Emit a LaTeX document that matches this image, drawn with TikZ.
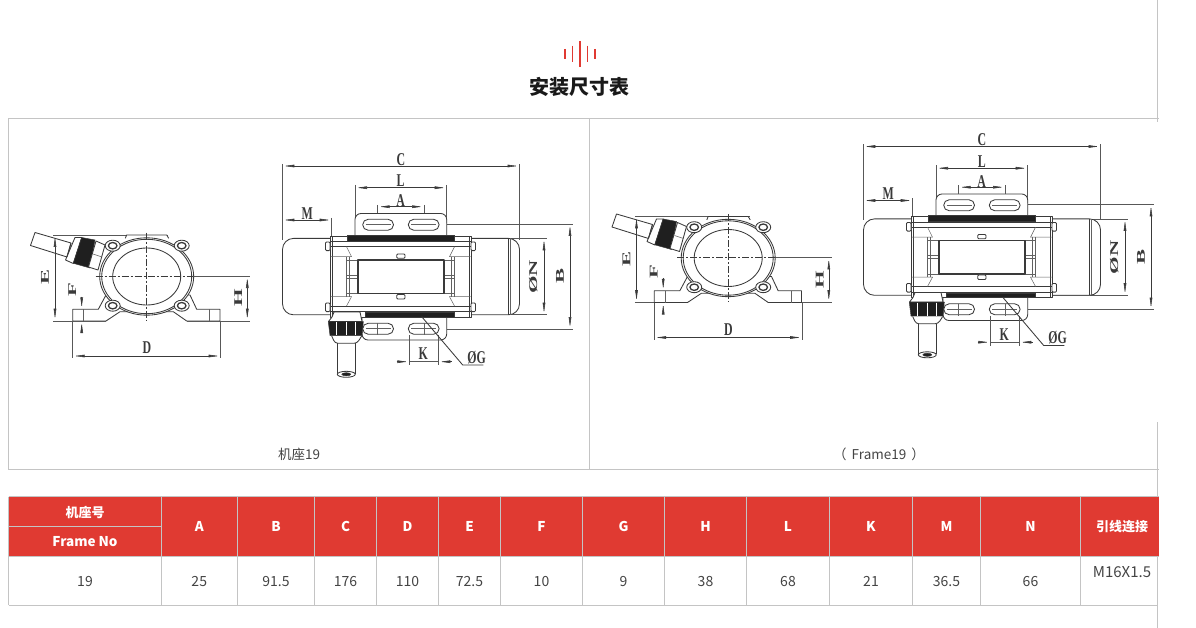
\documentclass[tikz,border=0pt]{standalone}
\usepackage{fontspec}
\setmainfont{Noto Sans CJK SC}
\newfontfamily\dimfont{Liberation Serif}
\usepackage{xcolor}
\usetikzlibrary{arrows.meta}
\definecolor{ink}{HTML}{3A3A3A}
\definecolor{rule}{HTML}{C4C4C4}
\definecolor{headred}{HTML}{E03A32}
\definecolor{txt}{HTML}{444444}
\tikzset{
  part/.style={draw=ink, line width=0.85pt, line join=round},
  thin part/.style={draw=ink!80, line width=0.5pt},
  solid part/.style={draw=ink, fill=black!88, line width=0.5pt},
  ctr/.style={draw=ink, line width=0.6pt, dash pattern=on 7pt off 2pt on 2pt off 2pt},
  ext/.style={draw=ink!85, line width=0.55pt},
  dim/.style={draw=ink, line width=0.55pt, {Latex[length=12pt,width=2.8pt]}-{Latex[length=12pt,width=2.8pt]}},
  dimto/.style={draw=ink, line width=0.55pt, -{Latex[length=12pt,width=2.8pt]}},
  dimlab/.style={text=ink, inner sep=0pt, transform shape, xscale=.66, font=\dimfont\bfseries\fontsize{18}{18}\selectfont},
  dimlabr/.style={dimlab, rotate=90, xscale=1.25},
  box/.style={draw=rule, line width=0.8pt},
  headcell/.style={text=white, inner sep=0pt, font=\bfseries\fontsize{13.5}{16}\selectfont},
  valcell/.style={text=txt, inner sep=0pt, text height=10pt, text depth=0pt, font=\fontsize{14}{16}\selectfont},
  capt/.style={text=txt, inner sep=0pt, font=\fontsize{13.5}{15}\selectfont},
  frontview/.pic={
    \draw[ext] (53.3,235) -- (168,235) (53.3,321) -- (106,321) (186.7,321) -- (250,321) (193,276) -- (250,276);
    \draw[part,fill=white] (72.7,321) -- (72.7,309.3) -- (98.3,309.3) -- (106,295) -- (120,295) -- (175,295) -- (190,295)
      -- (196.7,309.3) -- (220,309.3) -- (220,321) -- (186.7,321) -- (173.3,311.7) -- (120,311.7) -- (106,321) -- cycle;
    \draw[thin part] (83.3,309.3) -- (83.3,321) (209.3,309.3) -- (209.3,321);
    \draw[part,fill=white] (125.3,238.3) -- (126.7,235) -- (166.7,235) -- (168.7,238.3);
    \draw[part,fill=white] (146.7,276.5) ellipse (47 and 38.7);
    \draw[part,fill=white] (146.7,276.5) ellipse (45 and 37.2);
    \draw[part] (146.7,276.5) ellipse (34 and 28.5);
    \foreach \bx/\by in {112.7/245.7,181.7/245.7,112.7/305.7,181.7/305.7}{
      \draw[part,fill=white] (\bx,\by) ellipse (7.5 and 5.5);
      \draw[part,line width=1.3pt,fill=white] (\bx,\by) ellipse (4.3 and 3.2);
    }
    \draw[part,fill=white] (35,232.5) -- (30.5,245.5) -- (67,257) -- (71,243) -- cycle;
    \draw[part,fill=white] (75,237.5) -- (65.5,260) -- (73.3,263.5) -- (81.7,237.5) -- cycle;
    \draw[part] (71,243) -- (67,257);
    \draw[solid part] (81.7,237.5) -- (95,240) -- (90,268) -- (73.3,263.3) -- cycle;
    \draw[part,fill=white] (96,241) -- (105,245) -- (98,270) -- (88.5,267) -- cycle;
    \draw[thin part] (93,254) -- (102,257);
    \draw[ctr] (95.7,276) -- (193,276);
    \draw[ctr] (146.7,232.7) -- (146.7,320.7);
    \draw[dim] (55,235) -- (55,320.7);
    \node[dimlabr] (labE) at (45,277) {E};
    \draw[dimto] (81.7,296.5) -- (81.7,309.3);
    \draw[dimto] (81.7,331) -- (81.7,321);
    \node[dimlabr] (labF) at (72.3,290) {F};
    \draw[dim] (247.3,276) -- (247.3,320.7);
    \node[dimlabr] (labH) at (238.3,298) {H};
    \draw[ext] (72.7,321) -- (72.7,358) (220.7,321) -- (220.7,358);
    \draw[dim] (72.7,356) -- (220.7,356);
    \node[dimlab] (labD) at (147,348) {D};
  },
  sideview/.pic={
    \draw[ext] (282.3,164) -- (282.3,240) (519.5,164) -- (519.5,240) (331.7,218) -- (331.7,236);
    \draw[ext] (355,185) -- (355,223) (446.7,185) -- (446.7,223) (377.7,205) -- (377.7,230) (424,205) -- (424,230);
    \draw[ext] (446.7,224) -- (572.7,224) (446.7,329) -- (572.7,329) (471,238.3) -- (546.5,238.3) (471,314.7) -- (546.5,314.7);
    \draw[part,fill=white,rounded corners=6] (355,236) -- (355,213.5) -- (446.7,213.5) -- (446.7,236);
    \draw[part,fill=white,rounded corners=6] (446.7,317) -- (446.7,340) -- (362,340) -- (362,317);
    \foreach \sx in {362.7,408.3}{
      \foreach \sy in {219.3,323.3}{
        \draw[part,rounded corners=5.4] (\sx,\sy) rectangle ++(30.8,10.9);
        \draw[thin part] (\sx,\sy+5.4) ++(3,0) -- ++(24.8,0);
      }
    }
    \draw[thin part] (377.7,323) -- (377.7,335) (424,323) -- (424,335);
    \draw[part,fill=white,rounded corners=11] (282.5,238.4) rectangle (519.5,314.8);
    \draw[part] (508.3,238.4) -- (508.3,314.8);
    \draw[thin part] (510,238.4) -- (510,314.8);
    \draw[part,fill=white] (330,236) rectangle (471,317);
    \draw[part] (332,236) -- (332,317) (469,236) -- (469,317);
    \foreach \ly in {241.7,246.7,306,311.5}{
      \draw[part] (330,\ly) -- (471,\ly);
    }
    \foreach \mir in {1,-1}{
      \begin{scope}[shift={(400.5,0)},xscale=\mir]
        \draw[thin part] (-70,256.7) -- (-49,256.7) -- (-54,246.7) (-70,296.7) -- (-49,296.7) -- (-54,306);
        \draw[thin part] (-54,256.7) -- (-54,296.7) (-51,256.7) -- (-51,296.7);
        \draw[thin part] (-54,260) -- (-43,260) (-54,275) -- (-43,275) (-54,278) -- (-43,278) (-54,293.3) -- (-43,293.3);
        \foreach \by in {242,303}{
          \draw[part,fill=white,rounded corners=1] (-75,\by) rectangle (-70.5,\by+8.6);
        }
      \end{scope}
    }
    \draw[solid part] (347.3,235) rectangle (454,241);
    \draw[solid part] (365,312.3) rectangle (454,317);
    \draw[part,line width=1.6pt,fill=white] (358,260) rectangle (444,293.3);
    \draw[part,fill=white,rounded corners=1] (396.7,254) rectangle (405,258.3);
    \draw[part,fill=white,rounded corners=1] (396.7,294.5) rectangle (405,299);
    \draw[part,fill=white] (332,317) -- (334,312) -- (360,312) -- (362,321.5) -- (328.5,321.5) -- cycle;
    \draw[solid part] (328.3,321.7) -- (363.3,321.7) -- (362,335.5) -- (330,335.5) -- cycle;
    \draw[white,line width=0.6pt] (336,322) -- (336,335) (346,322) -- (346,335) (355.5,322) -- (355.5,335);
    \draw[part,fill=white,rounded corners=3] (331.7,336) -- (335,343.3) -- (357,343.3) -- (361.7,336);
    \draw[part,fill=white] (337.3,343.3) -- (337.3,373.5) (355.3,343.3) -- (355.3,373.5);
    \draw[part,fill=white] (346.3,374.3) ellipse (9 and 3);
    \draw[solid part] (346.3,374.3) ellipse (4.5 and 1.6);
    \draw[dim] (282.3,166) -- (519.5,166);
    \node[dimlab] (labC) at (401,159.3) {C};
    \draw[dim] (355,187.7) -- (446.7,187.7);
    \node[dimlab] (labL) at (400.7,180.7) {L};
    \draw[dim] (377.7,206.7) -- (424,206.7);
    \node[dimlab] (labA) at (400.7,200.7) {A};
    \draw[dim] (282.3,220) -- (331.7,220);
    \node[dimlab] (labM) at (307.3,213.3) {M};
    \draw[dim] (544,238.3) -- (544,314.7);
    \node[dimlabr] (labN) at (533.3,276.7) {ØN};
    \draw[dim] (570,224) -- (570,329);
    \node[dimlabr] (labB) at (560,276) {B};
    \draw[ext] (409.3,335) -- (409.3,365) (438.3,335) -- (438.3,365);
    \draw[dimto] (396.7,361.7) -- (409.3,361.7);
    \draw[dimto] (451.7,361.7) -- (438.3,361.7);
    \draw[ext] (409.3,361.7) -- (438.3,361.7);
    \node[dimlab] (labK) at (423.3,354) {K};
    \draw[part] (421.7,316.7) -- (462.7,365) -- (483.3,365);
    \node[dimlab] (labG) at (476.7,357.5) {ØG};
  },
}
\begin{document}
\begin{tikzpicture}[x=1pt,y=-1pt]
  \useasboundingbox (0,0) rectangle (1196,628);
  \foreach \ix/\iy in {565/5,572.7/8.3,580/13,587.3/8.3,595/5}
    \draw[headred,line width=1.1pt] (\ix,54-\iy) -- (\ix,54+\iy);
  \node[inner sep=0pt,text=black!90,font=\bfseries\fontsize{20}{24}\selectfont] (title) at (579.5,87) {安装尺寸表};
  % panels
  \draw[box] (1157.5,0) -- (1157.5,122) (1157.5,422) -- (1157.5,628);
  \draw[box] (1158.5,118) -- (8.5,118) -- (8.5,469.5) -- (1158.5,469.5);
  \draw[box] (589.5,118) -- (589.5,469.5);
  \pic (left) at (0,0) {frontview};
  \pic (leftb) at (0,0) {sideview};
  \pic (right) at (581.5,-18.5) {frontview};
  \pic (rightb) at (581,-19.5) {sideview};
  \node[capt] (captl) at (299,454) {机座19};
  \node[capt] (captr) at (879,454) {（\hspace{5pt}Frame19\hspace{5pt}）};
  % table
  \fill[headred] (8.5,496.5) rectangle (1159,556);
  \draw[box] (8.5,496.5) -- (1159,496.5) (8.5,556) -- (1159,556) (8.5,605) -- (1158,605);
  \draw[box] (8.5,496.5) -- (8.5,605) (8.5,526.5) -- (161,526.5);
  \node[headcell,font=\bfseries\fontsize{13}{15}\selectfont] (hno) at (85,512) {机座号};
  \node[headcell] (hframe) at (85,541.5) {Frame No};
  \node[valcell] (vno) at (85,581) {19};
  \foreach \xa/\xb/\nm/\val in {161/237.5/A/25,237.5/314.5/B/91.5,314.5/376.5/C/176,376.5/438.5/D/110,
    438.5/500.5/E/72.5,500.5/582.5/F/10,582.5/664.5/G/9,664.5/746.5/H/38,746.5/829.5/L/68,
    829.5/912.5/K/21,912.5/980.5/M/36.5,980.5/1080.5/N/66}{
    \draw[box] (\xa,496.5) -- (\xa,605);
    \node[headcell] (h\nm) at ({(\xa+\xb)/2},526.5) {\nm};
    \node[valcell] (v\nm) at ({(\xa+\xb)/2},581) {\val};
  }
  \draw[box] (1080.5,496.5) -- (1080.5,605);
  \node[headcell,font=\bfseries\fontsize{13}{15}\selectfont] (hlead) at (1122,527) {引线连接};
  \node[valcell,font=\fontsize{15}{17}\selectfont] (vlead) at (1122,572) {M16X1.5};
\end{tikzpicture}
\end{document}
